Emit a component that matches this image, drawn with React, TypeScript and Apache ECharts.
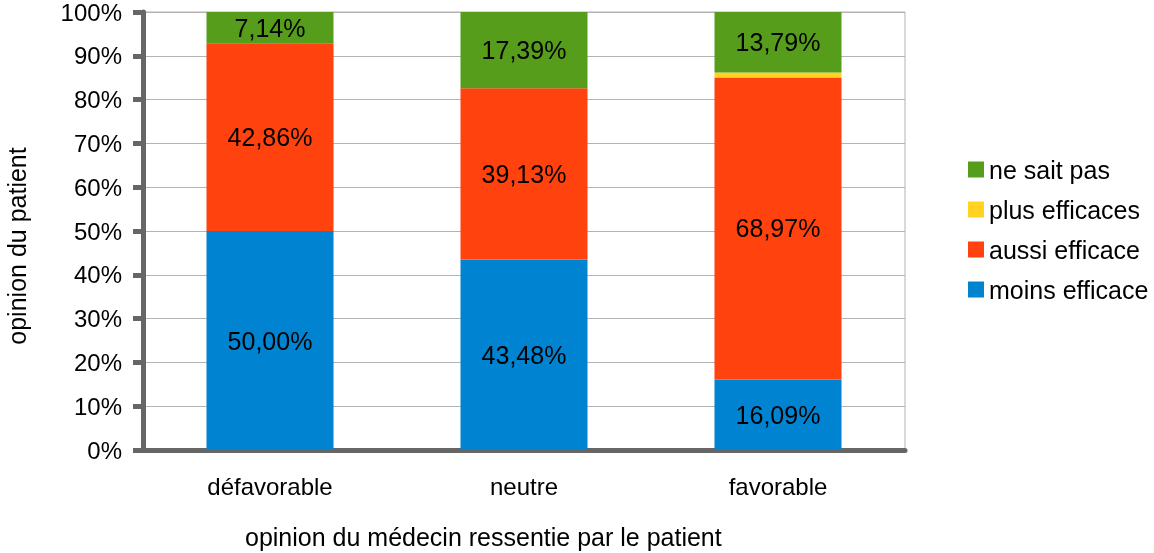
import React, { useEffect, useRef } from "react";
import * as echarts from "echarts";

const categories = ["défavorable", "neutre", "favorable"];
const seriesNames = ["moins efficace", "aussi efficace", "plus efficaces", "ne sait pas"];
const moinsEfficace = [50.0, 43.48, 16.09];
const aussiEfficace = [42.86, 39.13, 68.97];
const plusEfficaces = [0, 0, 1.15];
const neSaitPas = [7.14, 17.39, 13.79];
const colors = ["#0084D1", "#FF420E", "#FFD320", "#579D1C"];
const yTicks = [0, 10, 20, 30, 40, 50, 60, 70, 80, 90, 100];

const FONT = "'Liberation Sans', Arial, sans-serif";

export default function App() {
  const ref = useRef<HTMLDivElement>(null);
  useEffect(() => {
    if (!ref.current) return;
    const chart = echarts.init(ref.current, undefined, { renderer: "svg" });
    const values = [moinsEfficace, aussiEfficace, plusEfficaces, neSaitPas];
    chart.setOption({
      animation: false,
      textStyle: { fontFamily: FONT },
      grid: {
        left: 143,
        right: 249,
        top: 12,
        bottom: 103,
        show: true,
        borderColor: "#b3b3b3",
        borderWidth: 1,
      },
      legend: {
        orient: "vertical",
        left: 963,
        top: 152,
        itemWidth: 16,
        itemHeight: 16,
        itemGap: 15,
        icon: "rect",
        data: ["ne sait pas", "plus efficaces", "aussi efficace", "moins efficace"],
        textStyle: { fontSize: 25, color: "#000", fontFamily: FONT },
      },
      xAxis: {
        type: "category",
        data: categories,
        axisLine: { lineStyle: { color: "#666", width: 5 } },
        axisTick: { length: 10, lineStyle: { color: "#666", width: 5 } },
        axisLabel: { fontSize: 24, color: "#000", margin: 24, fontFamily: FONT },
      },
      yAxis: {
        type: "value",
        min: 0,
        max: 100,
        interval: 10,
        axisLine: { show: true, lineStyle: { color: "#666", width: 5 } },
        axisTick: { show: true, length: 10, lineStyle: { color: "#666", width: 5 } },
        axisLabel: {
          fontSize: 24,
          color: "#000",
          margin: 21,
          fontFamily: FONT,
          formatter: (v: number) => (yTicks.includes(v) ? v + "%" : ""),
        },
        splitLine: { lineStyle: { color: "#b3b3b3", width: 1 } },
      },
      graphic: [
        {
          type: "text",
          x: 245,
          y: 537,
          style: {
            text: "opinion du médecin ressentie par le patient",
            fontSize: 25,
            fill: "#000",
            fontFamily: FONT,
            textVerticalAlign: "middle",
          },
        },
        {
          type: "text",
          x: 17,
          y: 246,
          rotation: Math.PI / 2,
          style: {
            text: "opinion du patient",
            fontSize: 25,
            fill: "#000",
            fontFamily: FONT,
            textAlign: "center",
            textVerticalAlign: "middle",
          },
        },
      ],
      series: seriesNames.map((name, i) => ({
        name,
        type: "bar",
        stack: "total",
        barWidth: "50%",
        data: values[i],
        itemStyle: { color: colors[i] },
        label: {
          show: true,
          position: "inside",
          fontSize: 25,
          color: "#000",
          fontFamily: FONT,
          formatter: (p: any) => (p.value >= 5 ? p.value.toFixed(2).replace(".", ",") + "%" : ""),
        },
      })),
    });
    return () => chart.dispose();
  }, []);
  return (
    <div
      ref={ref}
      style={{ position: "fixed", left: 0, top: 0, width: 1154, height: 553, overflow: "hidden" }}
    />
  );
}
